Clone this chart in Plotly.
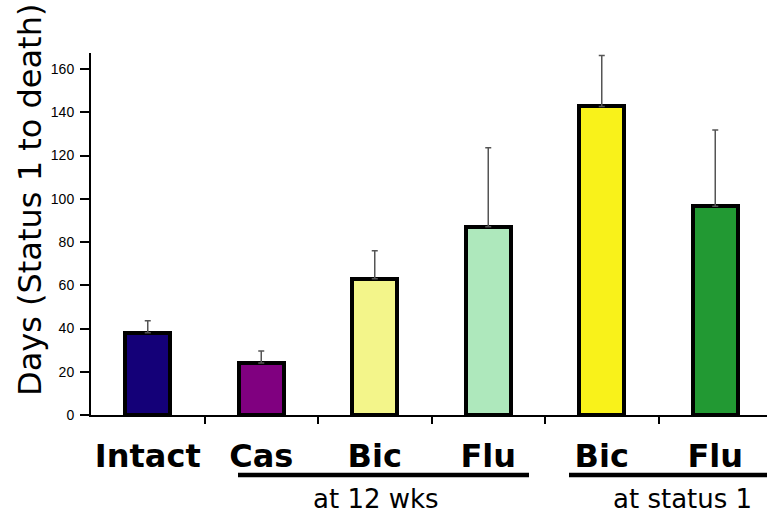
import plotly.graph_objects as go

# Mean survival (days) from status 1 to death, with upper error bars
groups = ["Intact", "Cas", "Bic", "Flu", "Bic", "Flu"]
days = [38, 24, 63, 87, 142.7, 96.5]
err = [5.6, 5.6, 13, 36.6, 23.5, 35.3]
colors = ["#140078", "#800080", "#f3f58a", "#aee8bc", "#f9f21a", "#229933"]
bracket_labels = ["at 12 wks", "at status 1"]

W, H = 767, 516
L, R, T, B = 91, 0, 53, 101
PW, PH = W - L - R, H - T - B

def px_x(px):
    return (px - L) / PW

def px_y(py):
    return (H - B - py) / PH

xs = list(range(len(groups)))
label_font = "DejaVu Sans"

fig = go.Figure()
fig.add_trace(go.Bar(
    x=xs, y=days, width=0.40,
    marker=dict(color=colors, line=dict(color="black", width=4)),
    error_y=dict(type="data", symmetric=False, array=err,
                 arrayminus=[0] * len(err), color="#555555",
                 thickness=1.5, width=3),
    showlegend=False,
))

annotations = [
    dict(text="Days (Status 1 to death)", textangle=-90, showarrow=False,
         xref="paper", yref="paper", x=px_x(30), y=px_y(200),
         xanchor="center", yanchor="middle",
         font=dict(family=label_font, size=32, color="black")),
    dict(text=bracket_labels[0], showarrow=False, xref="paper", yref="paper",
         x=px_x(376), y=px_y(499), xanchor="center", yanchor="middle",
         font=dict(family=label_font, size=26, color="black")),
    dict(text=bracket_labels[1], showarrow=False, xref="paper", yref="paper",
         x=px_x(682), y=px_y(499), xanchor="center", yanchor="middle",
         font=dict(family=label_font, size=26, color="black")),
]

shapes = [
    dict(type="line", xref="paper", yref="paper",
         x0=px_x(238), x1=px_x(529), y0=px_y(475), y1=px_y(475),
         line=dict(color="black", width=4.5)),
    dict(type="line", xref="paper", yref="paper",
         x0=px_x(569), x1=px_x(770), y0=px_y(475), y1=px_y(475),
         line=dict(color="black", width=4.5)),
]

fig.update_layout(
    width=W, height=H,
    margin=dict(l=L, r=R, t=T, b=B, pad=0),
    paper_bgcolor="white", plot_bgcolor="white",
    bargap=0,
    annotations=annotations,
    shapes=shapes,
    xaxis=dict(
        range=[-0.5, -0.5 + PW / 113.5],
        tickvals=xs, ticktext=["<b>%s</b>" % g for g in groups],
        ticks="", showgrid=False, zeroline=False,
        showline=True, linecolor="black", linewidth=2,
        tickfont=dict(family=label_font, size=32, color="black"),
        ticklabelstandoff=12,
        minor=dict(tickvals=[0.5, 1.5, 2.5, 3.5, 4.5, 5.5], ticks="outside",
                   ticklen=7, tickwidth=2, tickcolor="black", showgrid=False),
        fixedrange=True,
    ),
    yaxis=dict(
        range=[0, (H - B - T) / 2.1625],
        tickvals=[0, 20, 40, 60, 80, 100, 120, 140, 160],
        ticks="outside", ticklen=9, tickwidth=1.5, tickcolor="black",
        showgrid=False, zeroline=False,
        showline=True, linecolor="black", linewidth=2,
        tickfont=dict(family="Liberation Sans", size=14, color="black"),
        ticklabelstandoff=3,
    ),
)

fig.write_html("out.html")
